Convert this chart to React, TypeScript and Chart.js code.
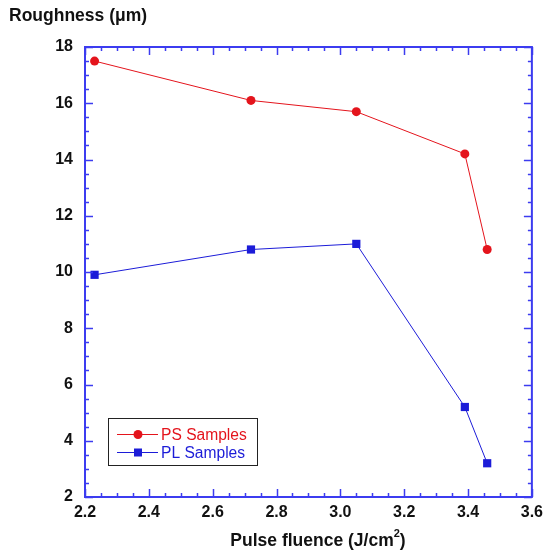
import React, { useEffect, useRef } from "react";
import { Chart, registerables } from "chart.js";

Chart.register(...registerables);

const fluence = [2.23, 2.72, 3.05, 3.39, 3.46];
const psValues = [17.5, 16.1, 15.7, 14.2, 10.8];
const plValues = [9.9, 10.8, 11.0, 5.2, 3.2];
const seriesLabels = ["PS Samples", "PL Samples"];
const xTitle = "Pulse fluence (J/cm";
const yTitle = "Roughness (\u03bcm)";

const RED = "#e4141c";
const BLUE = "#1c1cd8";
const AXIS = "#3c3cf0";
const FONT = "'Liberation Sans', Arial, sans-serif";

const decorPlugin = {
  id: "decor",
  afterDraw(chart: any) {
    const ctx = chart.ctx as CanvasRenderingContext2D;
    const { left, right, top, bottom } = chart.chartArea;
    const xs = chart.scales.x;
    const ys = chart.scales.y;
    ctx.save();
    // ticks
    ctx.strokeStyle = AXIS;
    ctx.lineWidth = 1.5;
    for (let i = 0; i <= 28; i++) {
      const v = 2.2 + i * 0.05;
      const px = Math.round(xs.getPixelForValue(v)) + 0.5;
      const len = i % 4 === 0 ? 8 : 4;
      ctx.beginPath();
      ctx.moveTo(px, bottom);
      ctx.lineTo(px, bottom - len);
      ctx.moveTo(px, top);
      ctx.lineTo(px, top + len);
      ctx.stroke();
    }
    for (let i = 0; i <= 32; i++) {
      const v = 2 + i * 0.5;
      const py = Math.round(ys.getPixelForValue(v)) + 0.5;
      const len = i % 4 === 0 ? 8 : 4;
      ctx.beginPath();
      ctx.moveTo(left, py);
      ctx.lineTo(left + len, py);
      ctx.moveTo(right, py);
      ctx.lineTo(right - len, py);
      ctx.stroke();
    }
    // border
    ctx.lineWidth = 2;
    ctx.strokeRect(left, top, right - left, bottom - top);

    // legend
    const lx = 108, ly = 418, lw = 149, lh = 47;
    ctx.fillStyle = "#ffffff";
    ctx.fillRect(lx, ly, lw, lh);
    ctx.strokeStyle = "#222222";
    ctx.lineWidth = 1;
    ctx.strokeRect(lx + 0.5, ly + 0.5, lw, lh);
    const rows = [
      { label: seriesLabels[0], color: RED, style: "circle", y: 434.5 },
      { label: seriesLabels[1], color: BLUE, style: "rect", y: 452.5 },
    ];
    ctx.font = `15.6px ${FONT}`;
    ctx.textBaseline = "middle";
    ctx.textAlign = "left";
    for (const r of rows) {
      ctx.strokeStyle = r.color;
      ctx.lineWidth = 1;
      ctx.beginPath();
      ctx.moveTo(117, r.y);
      ctx.lineTo(158, r.y);
      ctx.stroke();
      ctx.fillStyle = r.color;
      if (r.style === "circle") {
        ctx.beginPath();
        ctx.arc(138, r.y, 4.5, 0, Math.PI * 2);
        ctx.fill();
      } else {
        ctx.fillRect(134, r.y - 4, 8, 8);
      }
      ctx.fillText(r.label, 161, r.y + 1);
    }

    // axis titles
    ctx.fillStyle = "#111111";
    ctx.font = `bold 17.5px ${FONT}`;
    ctx.textAlign = "left";
    ctx.textBaseline = "middle";
    ctx.fillText(yTitle, 9, 16);

    ctx.font = `bold 17.5px ${FONT}`;
    const w1 = ctx.measureText(xTitle).width;
    ctx.font = `bold 11px ${FONT}`;
    const w2 = ctx.measureText("2").width;
    ctx.font = `bold 17.5px ${FONT}`;
    const w3 = ctx.measureText(")").width;
    const total = w1 + w2 + w3;
    let sx = 318 - total / 2;
    const ty = 541;
    ctx.fillText(xTitle, sx, ty);
    sx += w1;
    ctx.font = `bold 11px ${FONT}`;
    ctx.fillText("2", sx, ty - 7);
    sx += w2;
    ctx.font = `bold 17.5px ${FONT}`;
    ctx.fillText(")", sx, ty);
    ctx.restore();
  },
};

export default function App() {
  const ref = useRef<HTMLCanvasElement | null>(null);
  useEffect(() => {
    document.body.style.margin = "0";
    const canvas = ref.current;
    if (!canvas) return;
    const chart = new Chart(canvas, {
      type: "line",
      data: {
        datasets: [
          {
            label: seriesLabels[0],
            data: fluence.map((x, i) => ({ x, y: psValues[i] })),
            borderColor: RED,
            backgroundColor: RED,
            borderWidth: 1,
            pointStyle: "circle",
            pointRadius: 4.5,
            pointBorderWidth: 0,
            tension: 0,
          },
          {
            label: seriesLabels[1],
            data: fluence.map((x, i) => ({ x, y: plValues[i] })),
            borderColor: BLUE,
            backgroundColor: BLUE,
            borderWidth: 1,
            pointStyle: "rect",
            pointRadius: 5.8,
            pointBorderWidth: 0,
            tension: 0,
          },
        ],
      },
      options: {
        responsive: false,
        animation: false,
        layout: { padding: { left: 0, top: 47, right: 16, bottom: 0 } },
        plugins: { legend: { display: false }, tooltip: { enabled: false } },
        scales: {
          x: {
            type: "linear",
            min: 2.2,
            max: 3.6,
            grid: { display: false, drawTicks: false },
            border: { display: false },
            ticks: {
              stepSize: 0.2,
              padding: 6,
              color: "#111111",
              font: { family: FONT, size: 16, weight: "bold" },
              maxRotation: 0,
            },
            afterFit: (s: any) => {
              s.height = 60;
            },
          },
          y: {
            type: "linear",
            min: 2,
            max: 18,
            grid: { display: false, drawTicks: false },
            border: { display: false },
            ticks: {
              stepSize: 2,
              padding: 12,
              color: "#111111",
              font: { family: FONT, size: 16, weight: "bold" },
            },
            afterFit: (s: any) => {
              s.width = 85;
            },
          },
        },
      },
      plugins: [decorPlugin],
    } as any);
    return () => chart.destroy();
  }, []);
  return (
    <div style={{ position: "absolute", left: 0, top: 0 }}>
      <canvas ref={ref} width={549} height={557} />
    </div>
  );
}
